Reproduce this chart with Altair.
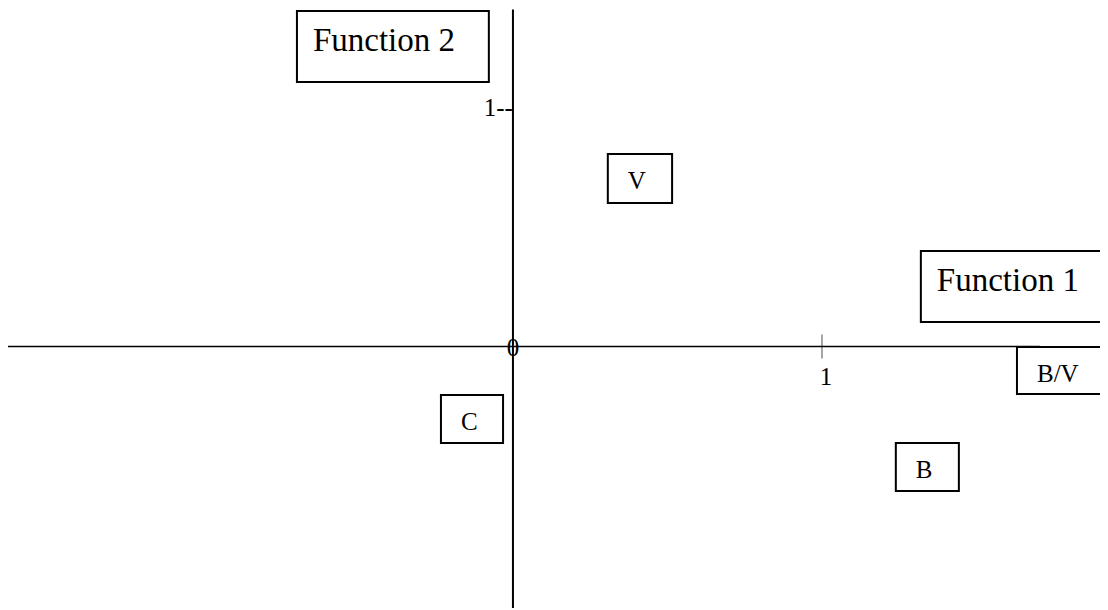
import altair as alt
import pandas as pd

# ---- data ----
box_labels = ["Function 2", "V", "Function 1", "B/V", "C", "B"]
box_kind = ["title", "group", "title", "group", "group", "group"]
box_x1 = [-0.699, 0.307, 1.320, 1.631, -0.233, 1.239]
box_x2 = [-0.078, 0.515, 1.980, 1.980, -0.032, 1.443]
box_y1 = [1.114, 0.604, 0.103, -0.200, -0.406, -0.608]
box_y2 = [1.413, 0.811, 0.402, -0.002, -0.204, -0.406]

x_axis_start, x_axis_end = -1.634, 1.705
y_axis_start, y_axis_end = -1.2, 1.419
x_ticks = [1]
x_tick_labels = ["1"]
y_ticks = [1]
y_tick_labels = ["1--"]
origin_label = ["0"]

X_DOMAIN = [-1.634, 1.8997]
Y_DOMAIN = [-1.1011, 1.4253]
W, H = 1092, 600
FONT = "Liberation Serif"

xs = alt.Scale(domain=X_DOMAIN, nice=False, zero=False)
ys = alt.Scale(domain=Y_DOMAIN, nice=False, zero=False)

boxes = pd.DataFrame({"label": box_labels, "kind": box_kind,
                      "x1": box_x1, "x2": box_x2, "y1": box_y1, "y2": box_y2})

base = alt.Chart(boxes)

rects = base.mark_rect(fill="white", stroke="black", strokeWidth=2, clip=True).encode(
    x=alt.X("x1:Q", scale=xs, axis=None), x2="x2:Q",
    y=alt.Y("y1:Q", scale=ys, axis=None), y2="y2:Q")

title_text = base.transform_filter(alt.datum.kind == "title").mark_text(
    font=FONT, fontSize=33, align="left", baseline="alphabetic", dx=16, dy=40, color="black"
).encode(x=alt.X("x1:Q", scale=xs, axis=None), y=alt.Y("y2:Q", scale=ys, axis=None), text="label:N")

group_text = base.transform_filter(alt.datum.kind == "group").mark_text(
    font=FONT, fontSize=25, align="left", baseline="alphabetic", dx=20, dy=35, color="black"
).encode(x=alt.X("x1:Q", scale=xs, axis=None), y=alt.Y("y2:Q", scale=ys, axis=None), text="label:N")

xaxis = alt.Chart(pd.DataFrame({"a": [x_axis_start], "b": [x_axis_end], "y": [0]})).mark_rule(
    color="black", strokeWidth=1.5, clip=True).encode(
    x=alt.X("a:Q", scale=xs, axis=None), x2="b:Q", y=alt.Y("y:Q", scale=ys, axis=None))

yaxis = alt.Chart(pd.DataFrame({"a": [y_axis_start], "b": [y_axis_end], "x": [0]})).mark_rule(
    color="black", strokeWidth=2, clip=True).encode(
    y=alt.Y("a:Q", scale=ys, axis=None), y2="b:Q", x=alt.X("x:Q", scale=xs, axis=None))

xt = pd.DataFrame({"x": x_ticks, "y": [0] * len(x_ticks), "t": x_tick_labels})
xtick = alt.Chart(xt).mark_tick(orient="vertical", size=24, thickness=1, color="black").encode(
    x=alt.X("x:Q", scale=xs, axis=None), y=alt.Y("y:Q", scale=ys, axis=None))
xtick_lab = alt.Chart(xt).mark_text(font=FONT, fontSize=25, align="center", baseline="alphabetic",
                                    dx=4, dy=39, color="black").encode(
    x=alt.X("x:Q", scale=xs, axis=None), y=alt.Y("y:Q", scale=ys, axis=None), text="t:N")

yt = pd.DataFrame({"x": [0] * len(y_ticks), "y": y_ticks, "t": y_tick_labels})
ytick_lab = alt.Chart(yt).mark_text(font=FONT, fontSize=25, align="right", baseline="alphabetic",
                                    dx=0, dy=7, color="black").encode(
    x=alt.X("x:Q", scale=xs, axis=None), y=alt.Y("y:Q", scale=ys, axis=None), text="t:N")

org = pd.DataFrame({"x": [0], "y": [0], "t": origin_label})
org_lab = alt.Chart(org).mark_text(font=FONT, fontSize=25, align="center", baseline="alphabetic",
                                   dy=10, color="black").encode(
    x=alt.X("x:Q", scale=xs, axis=None), y=alt.Y("y:Q", scale=ys, axis=None), text="t:N")

chart = alt.layer(
    xaxis, yaxis, xtick, rects, title_text, group_text, xtick_lab, ytick_lab, org_lab
).properties(
    width=W, height=H, padding=0, autosize=alt.AutoSizeParams(type="none"),
    background="white"
).configure_view(stroke=None)

chart.save("out.html", embed_options={"renderer": "svg", "actions": False})
